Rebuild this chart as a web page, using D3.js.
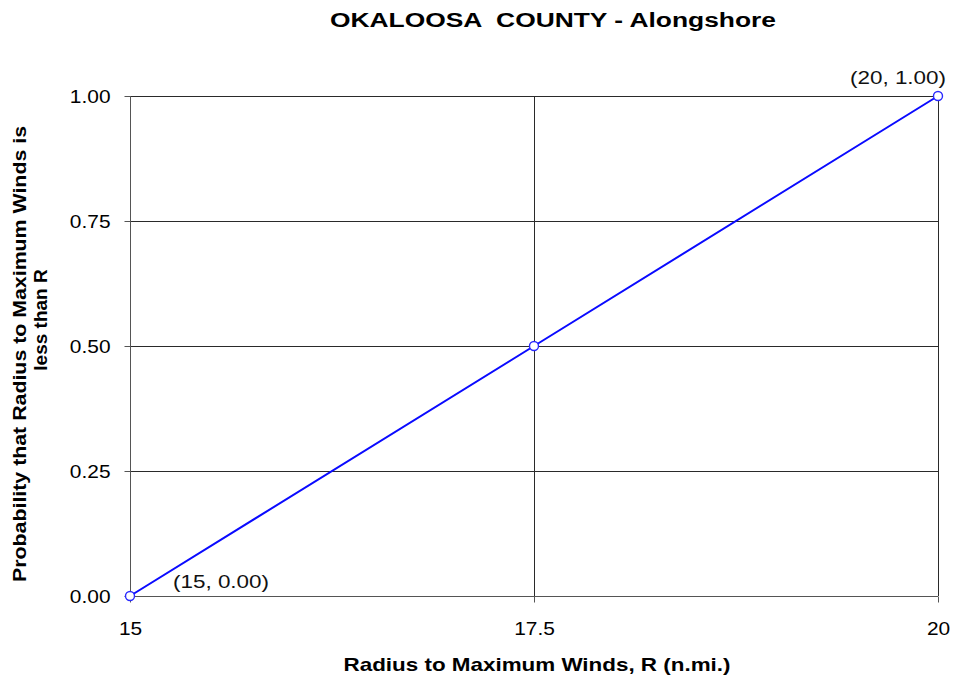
<!DOCTYPE html>
<html>
<head>
<meta charset="utf-8">
<script src="https://cdn.jsdelivr.net/npm/d3@7/dist/d3.min.js"></script>
<style>
  body { margin: 0; background: #fff; }
  text { font-family: "Liberation Sans", Arial, sans-serif; }
</style>
</head>
<body>
<div id="chart"></div>
<script>
// data
const radius = [15, 17.5, 20];
const prob = [0.00, 0.50, 1.00];
const xTicks = [15, 17.5, 20];
const yTicks = [0, 0.25, 0.5, 0.75, 1.0];
const pointLabels = [{i: 0, text: "(15, 0.00)"}, {i: 2, text: "(20, 1.00)"}];

const W = 956, H = 677;
const m = {left: 130, right: 18, top: 96, bottom: 81};

const svg = d3.select("#chart").append("svg")
  .attr("width", W).attr("height", H);

const x = d3.scaleLinear().domain([15, 20]).range([m.left, W - m.right]);
const y = d3.scaleLinear().domain([0, 1]).range([H - m.bottom, m.top]);

// the source image is a little wider than tall, so stretch text sideways
function stretch(sel, k) {
  sel.each(function() {
    const w = this.getComputedTextLength();
    d3.select(this).attr("textLength", w * k).attr("lengthAdjust", "spacingAndGlyphs");
  });
}

// gridlines
svg.append("g").selectAll("line")
  .data(yTicks.filter(d => d > 0))
  .join("line")
  .attr("x1", x(15)).attr("x2", x(20))
  .attr("y1", d => Math.round(y(d)) + 0.5).attr("y2", d => Math.round(y(d)) + 0.5)
  .attr("stroke", "#2a2a2a").attr("stroke-width", 1);

svg.append("g").selectAll("line")
  .data(xTicks.filter(d => d > 15))
  .join("line")
  .attr("x1", d => Math.round(x(d)) + 0.5).attr("x2", d => Math.round(x(d)) + 0.5)
  .attr("y1", y(0)).attr("y2", y(1))
  .attr("stroke", "#2a2a2a").attr("stroke-width", 1);

// axes
const yAxis = d3.axisLeft(y).tickValues(yTicks).tickSize(6).tickPadding(14)
  .tickFormat(d3.format(".2f"));
const xAxis = d3.axisBottom(x).tickValues(xTicks).tickSize(6).tickPadding(19)
  .tickFormat(d => d);

const gy = svg.append("g").attr("transform", `translate(${m.left + 0.5},0)`).call(yAxis);
const gx = svg.append("g").attr("transform", `translate(0,${H - m.bottom + 0.5})`).call(xAxis);

gy.select(".domain").attr("d", `M0,${y(1)}V${y(0)}`);
gx.select(".domain").attr("d", `M${x(15)},0H${x(20)}`);
[gy, gx].forEach(g => {
  g.select(".domain").attr("stroke", "#555");
  g.selectAll(".tick line").attr("stroke", "#555");
  g.selectAll(".tick text").attr("fill", "#000").style("font-size", "19px")
    .call(stretch, 1.1);
});

// series line
const pts = radius.map((r, i) => [r, prob[i]]);
svg.append("path")
  .datum(pts)
  .attr("fill", "none")
  .attr("stroke", "#0a0aff")
  .attr("stroke-width", 2)
  .attr("d", d3.line().x(d => x(d[0])).y(d => y(d[1])));

svg.append("g").selectAll("circle")
  .data(pts)
  .join("circle")
  .attr("cx", d => x(d[0])).attr("cy", d => y(d[1]))
  .attr("r", 4.5)
  .attr("fill", "#fff")
  .attr("stroke", "#2a2aff")
  .attr("stroke-width", 1.4);

// point labels
svg.append("g").selectAll("text")
  .data(pointLabels)
  .join("text")
  .attr("x", d => d.i === 0 ? x(radius[d.i]) + 43 : x(radius[d.i]) + 8)
  .attr("y", d => d.i === 0 ? y(prob[d.i]) - 8 : y(prob[d.i]) - 12)
  .attr("text-anchor", d => d.i === 0 ? "start" : "end")
  .style("font-size", "19px")
  .attr("fill", "#111")
  .attr("textLength", 96).attr("lengthAdjust", "spacingAndGlyphs")
  .text(d => d.text);

// title
svg.append("text")
  .attr("x", 553).attr("y", 27)
  .attr("text-anchor", "middle")
  .style("font-size", "20px").style("font-weight", "bold")
  .style("white-space", "pre")
  .attr("textLength", 446).attr("lengthAdjust", "spacingAndGlyphs")
  .text("OKALOOSA  COUNTY - Alongshore");

// x title
svg.append("text")
  .attr("x", 537).attr("y", 671)
  .attr("text-anchor", "middle")
  .style("font-size", "19px").style("font-weight", "bold")
  .attr("textLength", 387).attr("lengthAdjust", "spacingAndGlyphs")
  .text("Radius to Maximum Winds, R (n.mi.)");

// y title, two lines
const yt = svg.append("g").attr("transform", "rotate(-90)");
yt.append("text")
  .attr("x", -354).attr("y", 26)
  .attr("text-anchor", "middle")
  .style("font-size", "19px").style("font-weight", "bold")
  .attr("textLength", 456).attr("lengthAdjust", "spacingAndGlyphs")
  .text("Probability that Radius to Maximum Winds is");
yt.append("text")
  .attr("x", -320).attr("y", 47)
  .attr("text-anchor", "middle")
  .style("font-size", "19px").style("font-weight", "bold")
  .text("less than R");
</script>
</body>
</html>
